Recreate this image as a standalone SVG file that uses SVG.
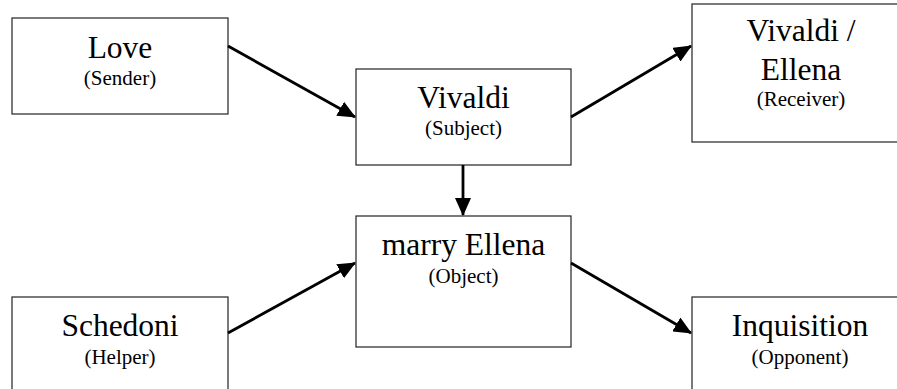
<svg xmlns="http://www.w3.org/2000/svg" width="897" height="389" viewBox="0 0 897 389">
<style>
.box{fill:#fff;stroke:#222;stroke-width:1.2}
.t{font-family:"Liberation Serif","Times New Roman",serif;font-size:31.5px;fill:#000;text-anchor:middle}
.s{font-family:"Liberation Serif","Times New Roman",serif;font-size:21px;fill:#000;text-anchor:middle}
.c{stroke:#000;stroke-width:2.8;fill:none;marker-end:url(#ah)}
</style>
<defs>
<marker id="ah" markerUnits="userSpaceOnUse" markerWidth="18" markerHeight="16" refX="17" refY="8" orient="auto" viewBox="0 0 18 16">
<path d="M0,0 L18,8 L0,16 Z" fill="#000"/>
</marker>
</defs>
<rect width="897" height="389" fill="#fff"/>
<g id="n-love">
<rect class="box" x="12" y="18" width="216" height="96"/>
<text class="t" x="120" y="58">Love</text>
<text class="s" x="120" y="85">(Sender)</text>
</g>
<g id="n-subject">
<rect class="box" x="356" y="69" width="215" height="96"/>
<text class="t" x="463.5" y="108">Vivaldi</text>
<text class="s" x="463.5" y="135">(Subject)</text>
</g>
<g id="n-receiver">
<rect class="box" x="692" y="4" width="216" height="138"/>
<text class="t" x="801" y="41">Vivaldi /</text>
<text class="t" x="801" y="80">Ellena</text>
<text class="s" x="801" y="106">(Receiver)</text>
</g>
<g id="n-object">
<rect class="box" x="356" y="216" width="215" height="131"/>
<text class="t" x="463.5" y="255">marry Ellena</text>
<text class="s" x="463.5" y="283">(Object)</text>
</g>
<g id="n-helper">
<rect class="box" x="12" y="297" width="216" height="110"/>
<text class="t" x="120" y="336">Schedoni</text>
<text class="s" x="120" y="364">(Helper)</text>
</g>
<g id="n-opponent">
<rect class="box" x="692" y="297" width="216" height="110"/>
<text class="t" x="800" y="336">Inquisition</text>
<text class="s" x="800" y="364">(Opponent)</text>
</g>
<g id="connectors">
<line class="c" x1="228" y1="46" x2="355" y2="117"/>
<line class="c" x1="571" y1="117" x2="691" y2="46"/>
<line class="c" x1="463" y1="165" x2="463" y2="215"/>
<line class="c" x1="228" y1="333" x2="355" y2="263"/>
<line class="c" x1="571" y1="263" x2="691" y2="333"/>
</g>
</svg>
